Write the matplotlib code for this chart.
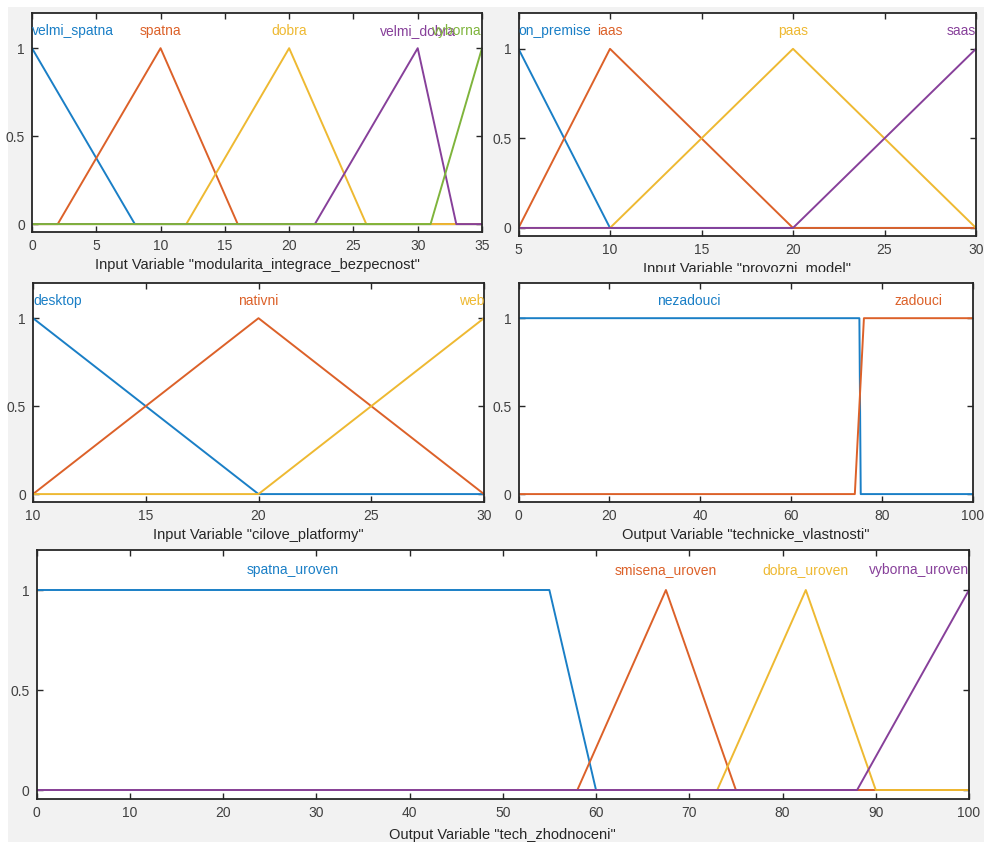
import matplotlib.pyplot as plt
from matplotlib.patches import Rectangle

plt.rcParams['font.family'] = ['Liberation Sans', 'DejaVu Sans']

W, H = 984, 842
colors = ['#1a7fc6', '#dc6129', '#eeb932', '#87409a', '#7fb43c']

# membership functions, one set of breakpoints per MF
mod_title = 'Input Variable "modularita_integrace_bezpecnost"'
mod_range = [0, 35]
mod_ticks = [0, 5, 10, 15, 20, 25, 30, 35]
mod_names = ['velmi_spatna', 'spatna', 'dobra', 'velmi_dobra', 'vyborna']
mod_x = [[0, 8, 35], [0, 2, 10, 16, 35], [0, 12, 20, 26, 35], [0, 22, 30, 33, 35], [0, 31, 35]]
mod_y = [[1, 0, 0], [0, 0, 1, 0, 0], [0, 0, 1, 0, 0], [0, 0, 1, 0, 0], [0, 0, 1]]

prov_title = 'Input Variable "provozni_model"'
prov_range = [5, 30]
prov_ticks = [5, 10, 15, 20, 25, 30]
prov_names = ['on_premise', 'iaas', 'paas', 'saas']
prov_x = [[5, 10, 30], [5, 10, 20, 30], [5, 10, 20, 30], [5, 20, 30]]
prov_y = [[1, 0, 0], [0, 1, 0, 0], [0, 0, 1, 0], [0, 0, 1]]

plat_title = 'Input Variable "cilove_platformy"'
plat_range = [10, 30]
plat_ticks = [10, 15, 20, 25, 30]
plat_names = ['desktop', 'nativni', 'web']
plat_x = [[10, 20, 30], [10, 20, 30], [10, 20, 30]]
plat_y = [[1, 0, 0], [0, 1, 0], [0, 0, 1]]

tv_title = 'Output Variable "technicke_vlastnosti"'
tv_range = [0, 100]
tv_ticks = [0, 20, 40, 60, 80, 100]
tv_names = ['nezadouci', 'zadouci']
tv_x = [[0, 75, 75.3, 100], [0, 74, 76, 100]]
tv_y = [[1, 1, 0, 0], [0, 0, 1, 1]]

tz_title = 'Output Variable "tech_zhodnoceni"'
tz_range = [0, 100]
tz_ticks = [0, 10, 20, 30, 40, 50, 60, 70, 80, 90, 100]
tz_names = ['spatna_uroven', 'smisena_uroven', 'dobra_uroven', 'vyborna_uroven']
tz_x = [[0, 55, 60, 100], [0, 58, 67.5, 75, 100], [0, 73, 82.5, 90, 100], [0, 88, 100]]
tz_y = [[1, 1, 0, 0], [0, 0, 1, 0, 0], [0, 0, 1, 0, 0], [0, 0, 1]]


def box(left, top, right, bottom):
    return [left / W, 1 - bottom / H, (right - left) / W, (bottom - top) / H]


def plot_var(ax, title, xr, ticks, names, xs, ys, labelpad=4):
    for i, (name, x, y) in enumerate(zip(names, xs, ys)):
        ax.plot(x, y, color=colors[i], lw=1.4)
        peaks = [xv for xv, yv in zip(x, y) if yv == max(y)]
        px = sum(peaks) / len(peaks)
        ha = 'center'
        if px <= xr[0]:
            ha = 'left'
        elif px >= xr[1]:
            ha = 'right'
        ax.text(px, 1.1, name, color=colors[i], ha=ha, va='center', fontsize=10)
    ax.set_xlim(xr)
    ax.set_ylim(-0.045, 1.2)
    ax.set_xticks(ticks)
    ax.set_yticks([0, 0.5, 1])
    ax.set_yticklabels(['0', '0.5', '1'])
    ax.tick_params(direction='in', top=True, right=True, length=4, width=1,
                   labelsize=10, labelcolor='#404040', color='#262626', pad=5)
    for s in ax.spines.values():
        s.set_color('#262626')
        s.set_linewidth(1.3)
    ax.set_xlabel(title, fontsize=10.5, color='#262626', labelpad=labelpad)


fig = plt.figure(figsize=(W / 100, H / 100), dpi=100, facecolor='white')
fig.patches.append(Rectangle((8 / W, 0), 1, 1 - 7 / H, transform=fig.transFigure,
                             facecolor='#f2f2f2', edgecolor='none', zorder=-10))

ax1 = fig.add_axes(box(32, 13, 482, 232))
plot_var(ax1, mod_title, mod_range, mod_ticks, mod_names, mod_x, mod_y)

ax2 = fig.add_axes(box(518.5, 13, 976, 236))
plot_var(ax2, prov_title, prov_range, prov_ticks, prov_names, prov_x, prov_y)

ax3 = fig.add_axes(box(33, 283, 484, 502))
plot_var(ax3, plat_title, plat_range, plat_ticks, plat_names, plat_x, plat_y)

ax4 = fig.add_axes(box(518.5, 283, 973, 502))
plot_var(ax4, tv_title, tv_range, tv_ticks, tv_names, tv_x, tv_y)

ax5 = fig.add_axes(box(36.5, 550, 969, 799))
plot_var(ax5, tz_title, tz_range, tz_ticks, tz_names, tz_x, tz_y, labelpad=6)

# next screenshot covers the lower edge of the provozni_model label
fig.patches.append(Rectangle((490 / W, 1 - 280 / H), 1, 8 / H, transform=fig.transFigure,
                             facecolor='#f2f2f2', edgecolor='none', zorder=5))

fig.savefig('out.png', dpi=100, facecolor=fig.get_facecolor())
